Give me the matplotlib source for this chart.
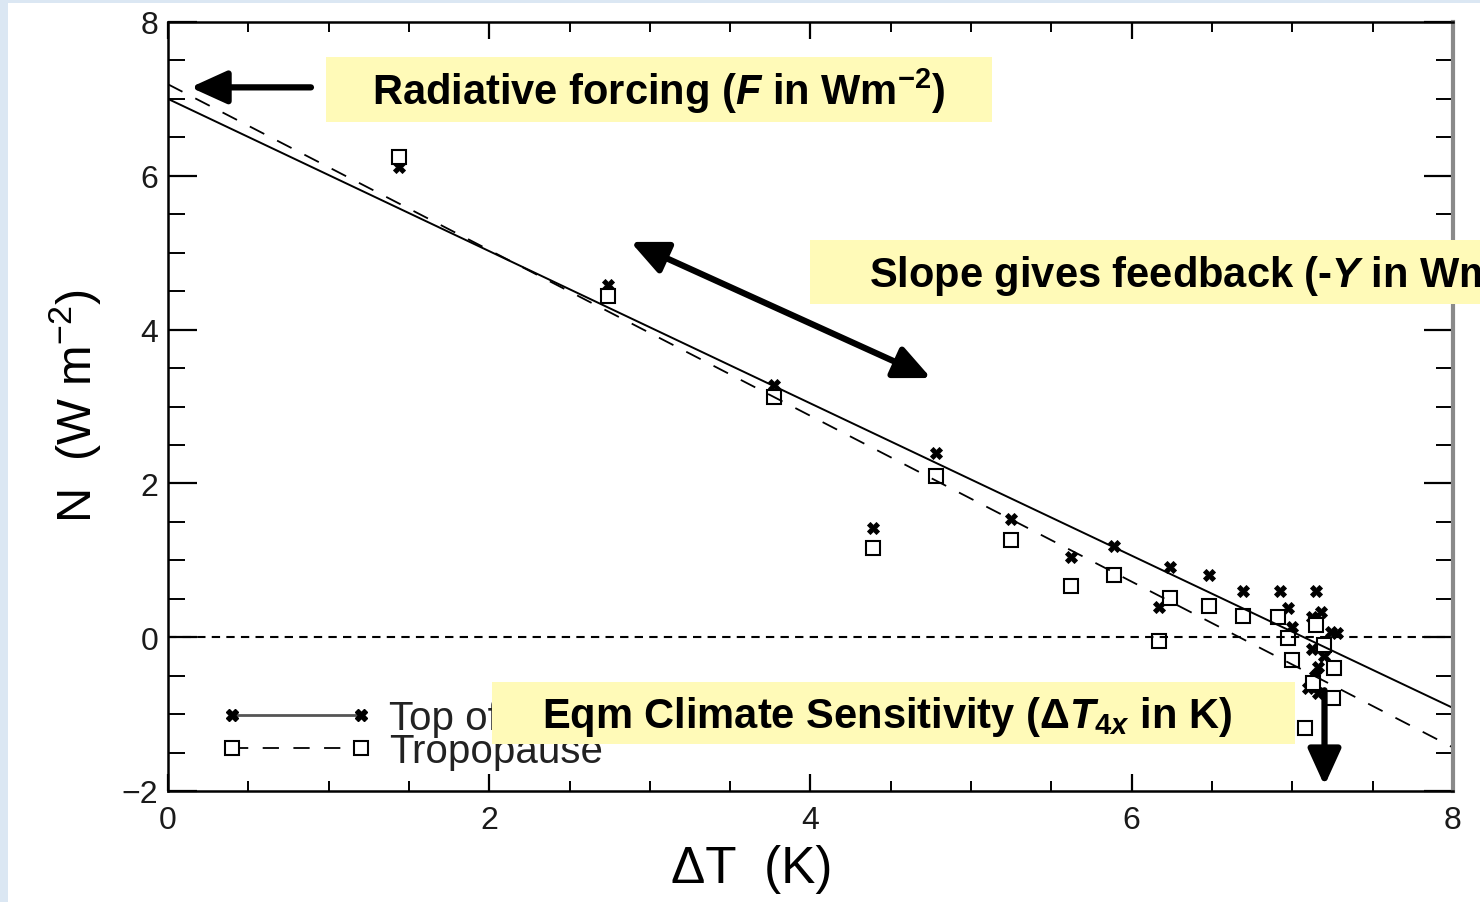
import numpy as np
import matplotlib
matplotlib.use('Agg')
import matplotlib.pyplot as plt
from matplotlib.lines import Line2D
from matplotlib.patches import Rectangle

# ---- data ----
toa_dt = [1.44, 2.74, 3.77, 4.39, 4.78, 5.25, 5.62, 5.89, 6.17, 6.24, 6.48, 6.69,
          6.92, 6.97, 7.00, 7.15, 7.18, 7.12, 7.24, 7.28, 7.12, 7.16, 7.10, 7.16, 7.20, 7.14]
toa_n = [6.11, 4.58, 3.28, 1.42, 2.40, 1.54, 1.04, 1.18, 0.39, 0.91, 0.81, 0.60,
         0.60, 0.38, 0.13, 0.60, 0.33, 0.26, 0.07, 0.05, -0.15, -0.39, -0.66, -0.73, -0.25, -0.50]
trop_dt = [1.44, 2.74, 3.77, 4.39, 4.78, 5.25, 5.62, 5.89, 6.17, 6.24, 6.48, 6.69,
           6.91, 6.97, 7.00, 7.15, 7.20, 7.26, 7.13, 7.25, 7.08]
trop_n = [6.25, 4.44, 3.12, 1.16, 2.10, 1.26, 0.66, 0.81, -0.05, 0.51, 0.40, 0.27,
          0.26, -0.01, -0.30, 0.16, -0.10, -0.40, -0.60, -0.79, -1.18]

# regression lines: (intercept, slope)
toa_fit = (7.00, -0.99)
trop_fit = (7.19, -1.078)

series_labels = ['Top of Atmosphere', 'Tropopause']
xticks = [0, 2, 4, 6, 8]
yticks = [-2, 0, 2, 4, 6, 8]

W, H = 1480, 903
ann_family, ann_size = 'Liberation Sans', 30

plt.rcParams['font.family'] = ['Liberation Sans', 'DejaVu Sans']
plt.rcParams['mathtext.fontset'] = 'custom'
plt.rcParams['mathtext.rm'] = ann_family + ':bold'
plt.rcParams['mathtext.it'] = ann_family + ':italic:bold'
plt.rcParams['mathtext.bf'] = ann_family + ':bold'


def fx(px):
    return px / W


def fy(py):
    return 1 - py / H


fig = plt.figure(figsize=(W / 100, H / 100), dpi=100, facecolor='#dbe7f3')
fig.patches.append(Rectangle((fx(8), 0), 1, fy(4), transform=fig.transFigure,
                             facecolor='white', edgecolor='none', zorder=-5))

ax = fig.add_axes([fx(168), fy(792), fx(1453) - fx(168), fy(23) - fy(792)])
ax.set_zorder(1)
ax.patch.set_alpha(0)
ax.set_xlim(0, 8)
ax.set_ylim(-2, 8)

ax.plot(toa_dt, toa_n, linestyle='none', marker='X', ms=9, color='black', mew=0.6)
ax.plot(trop_dt, trop_n, linestyle='none', marker='s', ms=10, mfc='white', mec='black', mew=1.5)

xx = np.array([0, 8])
ax.plot(xx, toa_fit[0] + toa_fit[1] * xx, color='black', lw=1.4)
ax.plot(xx, trop_fit[0] + trop_fit[1] * xx, color='black', lw=1.3, dashes=(9, 8))
ax.axhline(0, color='black', lw=1.5, dashes=(4, 3))

ax.set_xticks(xticks)
ax.set_yticks(yticks)
ax.set_xticks(np.arange(0, 8.01, 0.5), minor=True)
ax.set_yticks(np.arange(-2, 8.01, 0.5), minor=True)
ax.tick_params(which='both', direction='in', top=True, right=True, color='black',
               labelsize=23, labelcolor='#1a1a1a')
ax.tick_params(axis='x', which='major', length=12, width=1.6, pad=10)
ax.tick_params(axis='x', which='minor', length=7, width=1.4)
ax.tick_params(axis='y', which='major', length=21, width=1.6, pad=7)
ax.tick_params(axis='y', which='minor', length=12, width=1.4)
for s in ax.spines.values():
    s.set_linewidth(1.8)
ax.spines['right'].set_color('#8a8a8a')
ax.spines['right'].set_linewidth(3)

handles = [Line2D([], [], color='#555555', lw=2, marker='X', ms=9, mfc='black', mec='black'),
           Line2D([], [], color='black', lw=1.3, dashes=(9, 8), marker='s', ms=10,
                  mfc='white', mec='black', mew=1.5)]
ax.legend(handles, series_labels, loc='lower left', bbox_to_anchor=(0.0405, 0.027),
          frameon=False, fontsize=29, numpoints=2, handlelength=3.8,
          handletextpad=0.4, labelspacing=-0.13, borderaxespad=0, borderpad=0,
          labelcolor='#222222')

fig.text(fx(75), fy(406), r'N  (W m$\mathregular{^{-2}}$)', rotation=90,
         ha='center', va='center', fontsize=35)
fig.text(fx(752), fy(870), 'ΔT  (K)', ha='center', va='center', fontsize=37)

# annotation boxes (drawn over the axes)
yellow = '#fffab8'
boxes = [(326, 58, 992, 123), (810, 241, 1500, 305), (492, 683, 1295, 745)]
for x0, y0, x1, y1 in boxes:
    fig.patches.append(Rectangle((fx(x0), fy(y1)), fx(x1) - fx(x0), fy(y0) - fy(y1),
                                 transform=fig.transFigure, facecolor=yellow,
                                 edgecolor='none', zorder=5))

tprops = dict(family=ann_family, weight='bold', fontsize=ann_size, ha='left',
              va='baseline', zorder=6)
fig.text(fx(372), fy(105), r'Radiative forcing ($F$ in Wm$\mathregular{^{-2}}$)', **tprops)
fig.text(fx(869), fy(288), r'Slope gives feedback (-$Y$ in Wm$\mathregular{^{-2}}$ K$\mathregular{^{-1}}$)', **tprops)
fig.text(fx(542), fy(728), r'Eqm Climate Sensitivity (Δ$T_{\mathit{4x}}$ in K)', **tprops)

# arrows
aprops = dict(arrowstyle='-|>,head_length=1.1,head_width=0.5', color='black',
              lw=4.5, mutation_scale=20, shrinkA=0, shrinkB=0)
ax.annotate('', xy=(0.14, 7.15), xytext=(0.89, 7.15), arrowprops=aprops,
            annotation_clip=False)
dprops = dict(aprops, arrowstyle='<|-|>,head_length=1.1,head_width=0.5')
ax.annotate('', xy=(2.88, 5.14), xytext=(4.75, 3.37), arrowprops=dprops)
ax.annotate('', xy=(7.20, -1.93), xytext=(7.20, -0.69), arrowprops=aprops,
            annotation_clip=False)

fig.savefig('out.png', dpi=100, facecolor=fig.get_facecolor())
